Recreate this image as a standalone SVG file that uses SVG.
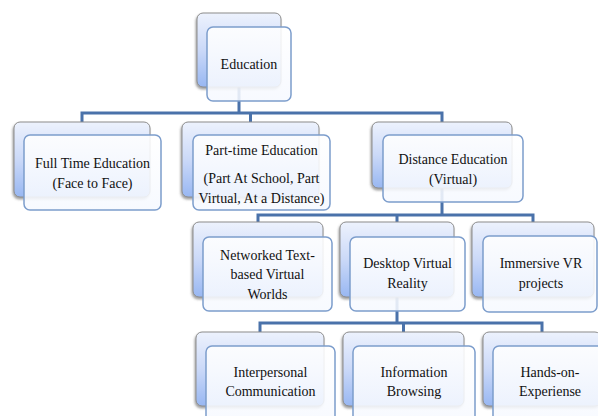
<svg xmlns="http://www.w3.org/2000/svg" width="598" height="416" viewBox="0 0 598 416">
<defs>
<linearGradient id="gBack" x1="0" y1="0" x2="0" y2="1">
<stop offset="0" stop-color="#edf2fd"/>
<stop offset="0.5" stop-color="#cbd9f8"/>
<stop offset="1" stop-color="#98b7f2"/>
</linearGradient>
<linearGradient id="gFront" x1="0" y1="0" x2="0" y2="1">
<stop offset="0" stop-color="#ffffff"/>
<stop offset="1" stop-color="#f6f9ff"/>
</linearGradient>
<filter id="sh" x="-10%" y="-10%" width="120%" height="125%">
<feDropShadow dx="-1" dy="2" stdDeviation="1.2" flood-color="#555" flood-opacity="0.55"/>
</filter>
</defs>
<style>
.back{fill:url(#gBack);stroke:#8c8c8c;stroke-width:1;filter:url(#sh)}
.front{fill:url(#gFront);fill-opacity:0.88;stroke:#7c9dcc;stroke-width:1.5}
text{font-family:'Liberation Serif','DejaVu Serif',serif;font-size:14px;fill:#111;text-anchor:middle}
.c{fill:none;stroke:#4a72aa;stroke-width:3;stroke-linejoin:miter}
</style>
<rect width="598" height="416" fill="#ffffff"/>
<g id="connectors">
<path class="c" d="M239,87 V113 M82,124 V113 H442 V124 M250.5,113 V124"/>
<path class="c" d="M442,188 V215 M258,224 V215 H533 V224 M397,215 V224"/>
<path class="c" d="M397,297 V323 M260,334 V323 H542 V334 M403.5,323 V334"/>
</g>
<g id="education">
<rect class="back" x="197" y="13" width="84" height="74" rx="6"/>
<rect class="front" x="207" y="27" width="84" height="74" rx="6"/>
<text font-family="Liberation Serif, serif" x="249" y="69">Education</text>
</g>
<g id="fulltime">
<rect class="back" x="14" y="122" width="136" height="75" rx="6"/>
<rect class="front" x="24" y="135" width="137" height="75" rx="6"/>
<text x="92.5" y="168">Full Time Education</text>
<text x="92.5" y="188">(Face to Face)</text>
</g>
<g id="parttime">
<rect class="back" x="182" y="122" width="137" height="75" rx="6"/>
<rect class="front" x="193" y="135" width="137" height="75" rx="6"/>
<text x="261.5" y="155">Part-time Education</text>
<text x="261.5" y="183">(Part At School, Part</text>
<text x="261.5" y="203">Virtual, At a Distance)</text>
</g>
<g id="distance">
<rect class="back" x="372" y="122" width="140" height="66" rx="6"/>
<rect class="front" x="383" y="135" width="140" height="67" rx="6"/>
<text x="453" y="164">Distance Education</text>
<text x="453" y="184">(Virtual)</text>
</g>
<g id="networked">
<rect class="back" x="193" y="222" width="130" height="75" rx="6"/>
<rect class="front" x="203" y="237" width="129" height="74" rx="6"/>
<text x="267.5" y="260">Networked Text-</text>
<text x="267.5" y="279">based Virtual</text>
<text x="267.5" y="299">Worlds</text>
</g>
<g id="desktop">
<rect class="back" x="340" y="222" width="114" height="75" rx="6"/>
<rect class="front" x="350" y="237" width="115" height="74" rx="6"/>
<text x="407.5" y="268">Desktop Virtual</text>
<text x="407.5" y="288">Reality</text>
</g>
<g id="immersive">
<rect class="back" x="472" y="222" width="122" height="75" rx="6"/>
<rect class="front" x="483" y="236" width="114" height="76" rx="6"/>
<text x="541" y="268">Immersive VR</text>
<text x="541" y="288">projects</text>
</g>
<g id="interpersonal">
<rect class="back" x="196" y="332" width="128" height="74" rx="6"/>
<rect class="front" x="206" y="346" width="129" height="80" rx="6"/>
<text x="270.5" y="377">Interpersonal</text>
<text x="270.5" y="396">Communication</text>
</g>
<g id="information">
<rect class="back" x="343" y="332" width="121" height="74" rx="6"/>
<rect class="front" x="353" y="346" width="122" height="80" rx="6"/>
<text x="414" y="377">Information</text>
<text x="414" y="396">Browsing</text>
</g>
<g id="handson">
<rect class="back" x="483" y="332" width="118" height="74" rx="6"/>
<rect class="front" x="493" y="346" width="118" height="80" rx="6"/>
<text x="550" y="377">Hands-on-</text>
<text x="550" y="396">Experiense</text>
</g>
</svg>
